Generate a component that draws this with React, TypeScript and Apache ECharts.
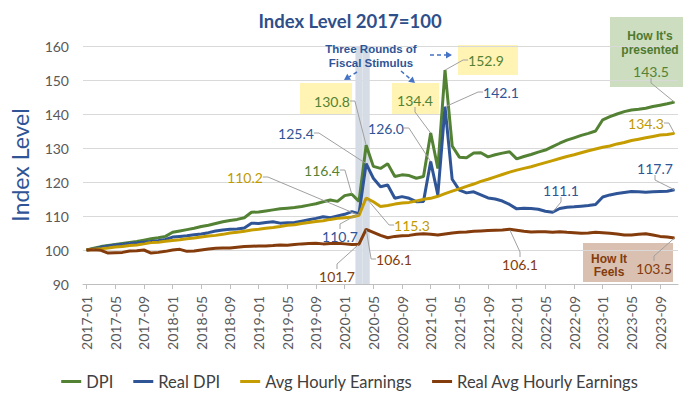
import React, { useEffect, useRef } from "react";
import * as echarts from "echarts";

// ---------- data ----------
const categories: string[] = [];
for (let y = 2017; y <= 2023; y++) {
  for (let m = 1; m <= 12; m++) {
    if (y === 2023 && m === 12) break;
    categories.push(`${y}-${String(m).padStart(2, "0")}`);
  }
}

const dpi = [
  100.0, 100.5, 101.0, 101.3, 101.6, 101.9, 102.2, 102.5, 102.9, 103.3, 103.6, 104.0,
  105.2, 105.6, 106.0, 106.4, 106.9, 107.3, 107.8, 108.3, 108.7, 109.0, 109.5, 111.1,
  111.2, 111.5, 111.8, 112.1, 112.3, 112.5, 112.8, 113.2, 113.6, 114.2, 114.7, 114.3,
  116.0, 116.4, 114.3, 130.8, 124.6, 124.0, 125.4, 121.6, 122.1, 121.9, 121.1, 121.6,
  134.4, 124.0, 152.9, 130.6, 127.3, 127.1, 128.5, 128.6, 127.4, 128.0, 128.5, 128.9,
  126.8, 127.5, 128.1, 128.8, 129.4, 130.4, 131.4, 132.3, 133.0, 133.7, 134.3, 135.0,
  138.3, 139.2, 140.0, 140.7, 141.2, 141.4, 141.7, 142.2, 142.6, 143.0, 143.5,
];

const realDpi = [
  100.0, 100.3, 100.8, 101.2, 101.5, 101.7, 101.9, 102.1, 102.3, 102.5, 102.7, 103.1,
  103.8, 104.0, 104.2, 104.5, 104.7, 105.1, 105.6, 105.9, 106.1, 106.2, 106.5, 107.9,
  107.8, 108.1, 108.3, 107.9, 108.0, 108.1, 108.5, 108.9, 109.3, 109.8, 109.5, 110.0,
  110.5, 111.3, 110.7, 125.4, 121.1, 118.6, 119.1, 115.2, 115.7, 115.2, 114.2, 114.3,
  126.0, 116.2, 142.1, 120.8, 117.6, 116.8, 117.1, 116.2, 115.3, 115.0, 114.4, 113.4,
  112.1, 112.3, 112.2, 112.0, 111.4, 111.1, 112.2, 112.6, 112.7, 112.9, 113.1, 113.4,
  115.6, 116.2, 116.6, 116.9, 117.2, 117.1, 117.0, 117.1, 117.2, 117.3, 117.7,
];

const avgHourly = [
  100.0, 100.2, 100.4, 100.6, 100.9, 101.0, 101.3, 101.5, 101.8, 102.2, 102.3, 102.6,
  102.8, 103.0, 103.3, 103.5, 103.8, 104.1, 104.3, 104.6, 105.0, 105.2, 105.5, 105.9,
  106.1, 106.4, 106.6, 106.9, 107.3, 107.4, 107.8, 108.1, 108.4, 108.6, 109.0, 109.3,
  109.5, 109.7, 110.2, 115.3, 114.2, 112.8, 113.1, 113.5, 113.8, 114.0, 114.4, 114.9,
  115.2, 115.8, 116.6, 117.3, 118.0, 118.7, 119.4, 120.2, 120.8, 121.5, 122.2, 122.9,
  123.5, 124.0, 124.5, 125.1, 125.7, 126.3, 126.9, 127.5, 128.0, 128.6, 129.2, 129.7,
  130.2, 130.6, 131.2, 131.6, 132.2, 132.6, 133.0, 133.4, 133.8, 134.0, 134.3,
];

const realAvgHourly = [
  100.0, 100.1, 99.9, 99.1, 99.2, 99.3, 99.7, 99.8, 100.0, 99.1, 99.3, 99.6,
  100.0, 100.2, 99.6, 99.7, 100.0, 100.3, 100.5, 100.6, 100.6, 100.8, 101.0, 101.1,
  101.2, 101.2, 101.3, 101.5, 101.4, 101.6, 101.8, 101.9, 102.0, 101.8, 101.9, 102.0,
  101.8, 101.6, 101.7, 106.1, 105.2, 104.3, 103.6, 104.0, 104.2, 104.3, 104.6, 104.8,
  104.6, 104.4, 104.7, 105.0, 105.2, 105.3, 105.5, 105.6, 105.7, 105.8, 105.9, 106.1,
  105.8, 105.5, 105.3, 105.4, 105.4, 105.2, 105.4, 105.2, 105.1, 104.9, 105.0, 105.2,
  105.1, 104.9, 104.7, 104.4, 104.4, 104.6, 104.8, 104.4, 104.0, 103.8, 103.5,
];

const seriesNames = ["DPI", "Real DPI", "Avg Hourly Earnings", "Real Avg Hourly Earnings"];
const stimulusMonths = ["2020-03", "2020-04"];
const bandTop = 160;

// callouts: [data index, label centre x, label centre y]
const dpiCallouts: number[][] = [[37, 322, 170], [39, 332, 101], [48, 415, 100], [50, 486, 60], [82, 651, 71]];
const realDpiCallouts: number[][] = [[38, 340, 236], [39, 296, 133], [48, 386, 128], [50, 501, 92], [65, 561, 190], [82, 655, 168]];
const aheCallouts: number[][] = [[38, 245, 177], [39, 412, 225], [82, 646, 123]];
const realAheCallouts: number[][] = [[38, 337, 276], [39, 394, 259], [59, 520, 264], [82, 654, 268]];

// ---------- style ----------
const FONT = "Lato";
const GREEN = "#548235";
const BLUE = "#2F5597";
const GOLD = "#C59D00";
const BROWN = "#843C0C";

function makeLine(name: string, values: number[], color: string, labelColor: string, callouts: number[][]) {
  const map = new Map<number, number[]>();
  callouts.forEach((c) => map.set(c[0], c));
  return {
    type: "line",
    name,
    data: values.map((v, i) => (map.has(i) ? { value: v, label: { show: true } } : v)),
    symbol: "circle",
    symbolSize: 1,
    showSymbol: true,
    showAllSymbol: true,
    lineStyle: { color, width: 3 },
    itemStyle: { color },
    label: {
      show: false,
      formatter: (p: any) => Number(p.value).toFixed(1),
      color: labelColor,
      fontSize: 14,
      fontFamily: FONT,
    },
    labelLine: { show: true, length2: 5, lineStyle: { color: "#A0A0A0", width: 1 } },
    labelLayout: (p: any) => {
      const c = map.get(p.dataIndex);
      if (!c) return {};
      return { x: c[1], y: c[2], align: "center", verticalAlign: "middle" };
    },
    emphasis: { disabled: true },
    z: 3,
  };
}

function arrow(from: number[], to: number[]) {
  const dx = to[0] - from[0];
  const dy = to[1] - from[1];
  const len = Math.sqrt(dx * dx + dy * dy);
  const ux = dx / len;
  const uy = dy / len;
  const px = -uy;
  const py = ux;
  const bx = to[0] - ux * 6;
  const by = to[1] - uy * 6;
  return [
    {
      type: "line",
      shape: { x1: from[0], y1: from[1], x2: bx, y2: by },
      style: { stroke: "#4472C4", lineWidth: 1.5, lineDash: [4, 3] },
      z: 5,
    },
    {
      type: "polygon",
      shape: { points: [[to[0], to[1]], [bx + px * 3.5, by + py * 3.5], [bx - px * 3.5, by - py * 3.5]] },
      style: { fill: "#4472C4" },
      z: 5,
    },
  ];
}

const boxes = [
  { x: 300, y: 83, w: 52, h: 32, fill: "#FFF4B3" },
  { x: 392, y: 83, w: 47, h: 32, fill: "#FFF4B3" },
  { x: 458, y: 45, w: 60, h: 30, fill: "#FFF4B3" },
  { x: 610, y: 17, w: 73, h: 70, fill: "#CCDDC0" },
  { x: 583, y: 243, w: 90, h: 39, fill: "#D9C0B1" },
];

const option: any = {
  animation: false,
  backgroundColor: "#ffffff",
  title: {
    text: "Index Level 2017=100",
    left: "center",
    top: 6,
    textStyle: { fontFamily: FONT, fontSize: 18.5, fontWeight: "bold", color: "#2F4F8A" },
  },
  grid: { left: 82, right: 22, top: 46, bottom: 110 },
  legend: {
    data: seriesNames,
    top: 368,
    left: "center",
    icon: "rect",
    itemWidth: 20,
    itemHeight: 3,
    itemGap: 20,
    textStyle: { fontFamily: FONT, fontSize: 16.5, color: "#404040" },
  },
  xAxis: {
    type: "category",
    data: categories,
    boundaryGap: true,
    axisLine: { lineStyle: { color: "#BFBFBF" } },
    axisTick: { show: true, alignWithLabel: true, interval: 3, length: 5, lineStyle: { color: "#BFBFBF" } },
    axisLabel: { interval: 3, rotate: 90, margin: 12, fontFamily: FONT, fontSize: 14, color: "#595959" },
    splitLine: { show: false },
  },
  yAxis: {
    type: "value",
    min: 90,
    max: 160,
    interval: 10,
    name: "Index Level",
    nameLocation: "middle",
    nameGap: 52,
    nameTextStyle: { fontFamily: FONT, fontSize: 23, color: BLUE },
    axisLine: { show: false },
    axisTick: { show: false },
    axisLabel: { margin: 14, fontFamily: FONT, fontSize: 14, color: "#595959" },
    splitLine: { lineStyle: { color: "#D9D9D9", width: 1 } },
  },
  graphic: [
    ...boxes.map((b) => ({
      type: "rect",
      shape: { x: b.x, y: b.y, width: b.w, height: b.h },
      style: { fill: b.fill },
      z: 0,
    })),
    {
      type: "text",
      z: 5,
      style: {
        text: "Three Rounds of\nFiscal Stimulus",
        x: 371,
        y: 56,
        align: "center",
        verticalAlign: "middle",
        lineHeight: 14,
        fontFamily: "Liberation Sans",
        fontSize: 11.5,
        fontWeight: "bold",
        fill: BLUE,
      },
    },
    {
      type: "text",
      z: 5,
      style: {
        text: "How It's\npresented",
        x: 650,
        y: 43,
        align: "center",
        verticalAlign: "middle",
        lineHeight: 14,
        fontFamily: "Liberation Sans",
        fontSize: 12,
        fontWeight: "bold",
        fill: "#4E7A30",
      },
    },
    {
      type: "text",
      z: 5,
      style: {
        text: "How It\nFeels",
        x: 609,
        y: 265,
        align: "center",
        verticalAlign: "middle",
        lineHeight: 13,
        fontFamily: "Liberation Sans",
        fontSize: 12,
        fontWeight: "bold",
        fill: BROWN,
      },
    },
    ...arrow([357, 72], [344, 80]),
    ...arrow([401, 71], [415, 83]),
    ...arrow([430, 55], [452, 55]),
  ],
  series: [
    {
      type: "bar",
      name: "Stimulus",
      data: categories.map((c) => (stimulusMonths.includes(c) ? bandTop : null)),
      barCategoryGap: "0%",
      itemStyle: { color: "#D6DCE5" },
      silent: true,
      clip: true,
      z: 1,
    },
    makeLine(seriesNames[0], dpi, GREEN, GREEN, dpiCallouts),
    makeLine(seriesNames[1], realDpi, BLUE, BLUE, realDpiCallouts),
    makeLine(seriesNames[2], avgHourly, GOLD, "#BF9A00", aheCallouts),
    makeLine(seriesNames[3], realAvgHourly, BROWN, BROWN, realAheCallouts),
  ],
};

export default function App() {
  const ref = useRef<HTMLDivElement>(null);
  useEffect(() => {
    const chart = echarts.init(ref.current as HTMLDivElement, null, { renderer: "svg" });
    chart.setOption(option);
    return () => chart.dispose();
  }, []);
  return (
    <div
      ref={ref}
      style={{ position: "fixed", left: 0, top: 0, width: 700, height: 394, background: "#fff" }}
    />
  );
}
